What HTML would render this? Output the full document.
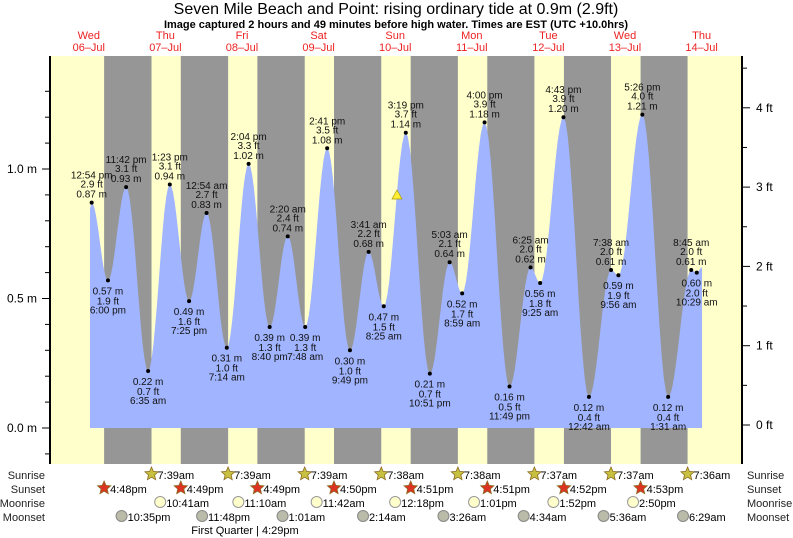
<!DOCTYPE html>
<html><head><meta charset="utf-8"><style>
body{margin:0;background:#fff;}
svg{display:block;font-family:"Liberation Sans",sans-serif;}
</style></head><body>
<svg id="s" width="793" height="538" xmlns="http://www.w3.org/2000/svg"></svg>
<script>
const s=document.getElementById('s');let h='';
const X0=50.5,D=76.6;
const xt=(d,hr)=>X0+D*(d+hr/24);
const Ym=m=>428-259*m;
h+='<rect x="50" y="56" width="692" height="408" fill="#ffffcc"/>';
const sr=[null,7.65,7.65,7.65,7.633,7.633,7.617,7.617,7.6];
const ss=[16.8,16.817,16.817,16.833,16.85,16.85,16.867,16.883];
for(let d=0;d<8;d++){const a=xt(d,ss[d]),b=xt(d+1,sr[d+1]);h+=`<rect x="${a}" y="56" width="${b-a}" height="408" fill="#969696"/>`;}
const T=[[0,'12:54 pm',0.87,'2.9',1],[0,'6:00 pm',0.57,'1.9',0],[0,'11:42 pm',0.93,'3.1',1],
[1,'6:35 am',0.22,'0.7',0],[1,'1:23 pm',0.94,'3.1',1],[1,'7:25 pm',0.49,'1.6',0],
[2,'12:54 am',0.83,'2.7',1],[2,'7:14 am',0.31,'1.0',0],[2,'2:04 pm',1.02,'3.3',1],[2,'8:40 pm',0.39,'1.3',0],
[3,'2:20 am',0.74,'2.4',1],[3,'7:48 am',0.39,'1.3',0],[3,'2:41 pm',1.08,'3.5',1],[3,'9:49 pm',0.30,'1.0',0],
[4,'3:41 am',0.68,'2.2',1],[4,'8:25 am',0.47,'1.5',0],[4,'3:19 pm',1.14,'3.7',1],[4,'10:51 pm',0.21,'0.7',0],
[5,'5:03 am',0.64,'2.1',1],[5,'8:59 am',0.52,'1.7',0],[5,'4:00 pm',1.18,'3.9',1],[5,'11:49 pm',0.16,'0.5',0],
[6,'6:25 am',0.62,'2.0',1],[6,'9:25 am',0.56,'1.8',0],[6,'4:43 pm',1.20,'3.9',1],
[7,'12:42 am',0.12,'0.4',0],[7,'7:38 am',0.61,'2.0',1],[7,'9:56 am',0.59,'1.9',0],[7,'5:26 pm',1.21,'4.0',1],
[8,'1:31 am',0.12,'0.4',0],[8,'8:45 am',0.61,'2.0',1],[8,'10:29 am',0.60,'2.0',0]];
function hr(t){let [a,p]=t.split(' ');let [H,M]=a.split(':').map(Number);if(H==12)H=0;if(p=='pm')H+=12;return H+M/60;}
const P=T.map(t=>({x:xt(t[0],hr(t[1])),m:t[2],t}));
const pts=[{x:90,m:0.85},...P,{x:702,m:0.62}];
let path=`M90,428`;
for(let i=0;i<pts.length-1;i++){const a=pts[i],b=pts[i+1];for(let k=0;k<=12;k++){const f=k/12,x=a.x+(b.x-a.x)*f,m=a.m+(b.m-a.m)*(1-Math.cos(Math.PI*f))/2;path+=`L${x.toFixed(1)},${Ym(m).toFixed(1)}`;}}
path+='L702,428Z';
h+=`<path d="${path}" fill="#a0b4ff"/>`;
P.forEach(p=>{const y=Ym(p.m);h+=`<circle cx="${p.x}" cy="${y}" r="2" fill="#000"/>`;
const st=`font-size="10" text-anchor="middle" fill="#111"`;
if(p.t[4]){h+=`<text x="${p.x}" y="${y-24}" ${st}>${p.t[1]}</text><text x="${p.x}" y="${y-15}" ${st}>${p.t[3]} ft</text><text x="${p.x}" y="${y-5}" ${st}>${p.m.toFixed(2)} m</text>`;}
else{h+=`<text x="${p.x}" y="${y+14}" ${st}>${p.m.toFixed(2)} m</text><text x="${p.x}" y="${y+24}" ${st}>${p.t[3]} ft</text><text x="${p.x}" y="${y+33}" ${st}>${p.t[1]}</text>`;}});
h+='<polygon points="397,190 392,199 402,199" fill="#ffee33" stroke="#aa9900" stroke-width="0.7"/>';
h+='<line x1="50" y1="56" x2="50" y2="464" stroke="#000" stroke-width="2"/><line x1="742" y1="56" x2="742" y2="464" stroke="#000" stroke-width="2"/>';
for(let m=-0.1;m<=1.4;m+=0.1){const y=Ym(m);if(y<56||y>464)continue;h+=`<line x1="${Math.abs(m*2-Math.round(m*2))<.01?42:45}" y1="${y}" x2="50" y2="${y}" stroke="#000"/>`;}
[['0.0 m',0],['0.5 m',0.5],['1.0 m',1]].forEach(a=>h+=`<text x="37" y="${Ym(a[1])+4}" font-size="12" text-anchor="end">${a[0]}</text>`);
for(let f=-0.5;f<=4.5;f+=0.5){const y=425-79.3*f;if(y<56||y>464)continue;h+=`<line x1="742" y1="${y}" x2="${f%1==0?750:747}" y2="${y}" stroke="#000"/>`;if(f%1==0&&f>=0)h+=`<text x="756" y="${y+4}" font-size="12">${f} ft</text>`;}
h+='<text x="396" y="14" font-size="16" text-anchor="middle">Seven Mile Beach and Point: rising  ordinary tide at 0.9m (2.9ft)</text>';
h+='<text x="396" y="28" font-size="11" font-weight="bold" text-anchor="middle">Image captured 2 hours and 49 minutes before high water. Times are EST (UTC +10.0hrs)</text>';
const dn=['Wed','Thu','Fri','Sat','Sun','Mon','Tue','Wed','Thu'],dd=['06','07','08','09','10','11','12','13','14'];
for(let d=0;d<9;d++){const x=Math.min(xt(d,12),716);h+=`<text x="${x}" y="39" font-size="11" fill="#ee2222" text-anchor="middle">${dn[d]}</text><text x="${x}" y="51" font-size="11" fill="#ee2222" text-anchor="middle">${dd[d]}–Jul</text>`;}
const rows=['Sunrise','Sunset','Moonrise','Moonset'],ry=[479,493,507,521];
rows.forEach((r,i)=>{h+=`<text x="45" y="${ry[i]}" font-size="11" text-anchor="end" fill="#222">${r}</text><text x="747" y="${ry[i]}" font-size="11" fill="#222">${r}</text>`;});
function star(cx,cy,c){let p='';for(let k=0;k<10;k++){const r=k%2?3.2:7,a=-Math.PI/2+k*Math.PI/5;p+=`${(cx+r*Math.cos(a)).toFixed(1)},${(cy+r*Math.sin(a)).toFixed(1)} `;}return `<polygon points="${p}" fill="${c}" stroke="#8a6a20" stroke-width="0.8"/>`;}
const srt=['7:39am','7:39am','7:39am','7:38am','7:38am','7:37am','7:37am','7:36am'];
for(let d=1;d<=8;d++){const x=xt(d,sr[d]);h+=star(x,474,'#c8c040')+`<text x="${x+6}" y="479" font-size="11">${srt[d-1]}</text>`;}
const sst=['4:48pm','4:49pm','4:49pm','4:50pm','4:51pm','4:51pm','4:52pm','4:53pm'];
for(let d=0;d<8;d++){const x=xt(d,ss[d]);h+=star(x,488,'#dd3322')+`<text x="${x+6}" y="493" font-size="11">${sst[d]}</text>`;}
const mr=[[1,'10:41am'],[2,'11:10am'],[3,'11:42am'],[4,'12:18pm'],[5,'1:01pm'],[6,'1:52pm'],[7,'2:50pm']];
mr.forEach(a=>{const x=xt(a[0],hr(a[1].replace('am',' am').replace('pm',' pm')))-1;h+=`<circle cx="${x}" cy="502" r="5.5" fill="#ffffcc" stroke="#999"/><text x="${x+6}" y="507" font-size="11">${a[1]}</text>`;});
const ms=[[0,'10:35pm'],[1,'11:48pm'],[3,'1:01am'],[4,'2:14am'],[5,'3:26am'],[6,'4:34am'],[7,'5:36am'],[8,'6:29am']];
ms.forEach(a=>{const x=xt(a[0],hr(a[1].replace('am',' am').replace('pm',' pm')))-1;h+=`<circle cx="${x}" cy="516" r="5.5" fill="#bbbbaa" stroke="#888"/><text x="${x+6}" y="521" font-size="11">${a[1]}</text>`;});
h+='<text x="245" y="534" font-size="11" text-anchor="middle">First Quarter | 4:29pm</text>';
s.innerHTML=h;
</script>
</body></html>
